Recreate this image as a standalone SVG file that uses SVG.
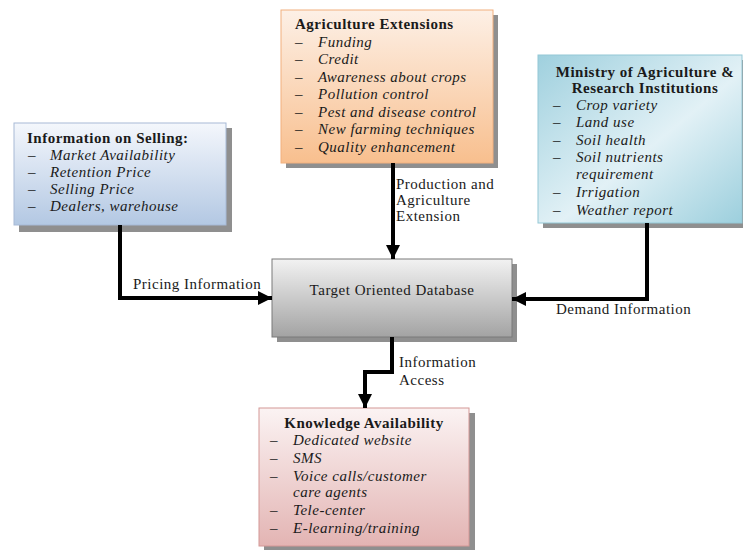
<svg xmlns="http://www.w3.org/2000/svg" width="743" height="550" viewBox="0 0 743 550">
<defs>
<linearGradient id="gSell" x1="0" y1="0" x2="0" y2="1"><stop offset="0" stop-color="#f4f7fc"/><stop offset="1" stop-color="#b3c8e3"/></linearGradient>
<linearGradient id="gAgri" x1="0" y1="0" x2="0" y2="1"><stop offset="0" stop-color="#fdf0e6"/><stop offset="1" stop-color="#f8bf8e"/></linearGradient>
<linearGradient id="gMin" x1="0" y1="0" x2="1" y2="1"><stop offset="0" stop-color="#9fd0de"/><stop offset="0.55" stop-color="#e2f1f6"/><stop offset="1" stop-color="#9ccfdd"/></linearGradient>
<linearGradient id="gDb" x1="0" y1="0" x2="0" y2="1"><stop offset="0" stop-color="#f2f2f2"/><stop offset="1" stop-color="#a3a3a3"/></linearGradient>
<linearGradient id="gKn" x1="0" y1="0" x2="0" y2="1"><stop offset="0" stop-color="#fbf3f3"/><stop offset="1" stop-color="#e3b4b3"/></linearGradient>
<marker id="ah" viewBox="0 0 10 10" refX="10" refY="5" markerWidth="3.6" markerHeight="3.6" orient="auto" markerUnits="strokeWidth"><path d="M0,0 L10,5 L0,10 z" fill="#000"/></marker>
</defs>
<style>
.sh{fill:#8f8f8f}
.t{font-family:"Liberation Serif","Times New Roman",serif;font-size:15px;letter-spacing:0.5px;fill:#1a1a1a}
.b{font-weight:bold}
.i{font-style:italic}
.c{stroke:#000;stroke-width:4;fill:none;marker-end:url(#ah)}
</style>
<rect width="743" height="550" fill="#fff"/>

<g id="selling">
<rect class="sh" x="19" y="128" width="213" height="104"/>
<rect x="14" y="123" width="212" height="102" fill="url(#gSell)" stroke="#a7bad6" stroke-width="1"/>
<text class="t b" x="27" y="143">Information on Selling:</text>
<text class="t" x="28" y="160">–</text><text class="t i" x="50" y="160">Market Availability</text>
<text class="t" x="28" y="177">–</text><text class="t i" x="50" y="177">Retention Price</text>
<text class="t" x="28" y="194">–</text><text class="t i" x="50" y="194">Selling Price</text>
<text class="t" x="28" y="211">–</text><text class="t i" x="50" y="211">Dealers, warehouse</text>
</g>

<g id="agri">
<rect class="sh" x="286" y="15" width="212" height="153"/>
<rect x="281" y="10" width="212" height="153" fill="url(#gAgri)" stroke="#f2b07e" stroke-width="1"/>
<text class="t b" x="295" y="29">Agriculture Extensions</text>
<text class="t" x="295" y="47">–</text><text class="t i" x="318" y="47">Funding</text>
<text class="t" x="295" y="64">–</text><text class="t i" x="318" y="64">Credit</text>
<text class="t" x="295" y="82">–</text><text class="t i" x="318" y="82">Awareness about crops</text>
<text class="t" x="295" y="99">–</text><text class="t i" x="318" y="99">Pollution control</text>
<text class="t" x="295" y="117">–</text><text class="t i" x="318" y="117">Pest and disease control</text>
<text class="t" x="295" y="134">–</text><text class="t i" x="318" y="134">New farming techniques</text>
<text class="t" x="295" y="152">–</text><text class="t i" x="318" y="152">Quality enhancement</text>
</g>

<g id="ministry">
<rect class="sh" x="543" y="60" width="200" height="168"/>
<rect x="538" y="55" width="204" height="168" fill="url(#gMin)" stroke="#94c8d6" stroke-width="1"/>
<text class="t b" x="645" y="77" text-anchor="middle">Ministry of Agriculture &amp;</text>
<text class="t b" x="645" y="93" text-anchor="middle">Research Institutions</text>
<text class="t" x="553" y="110">–</text><text class="t i" x="576" y="110">Crop variety</text>
<text class="t" x="553" y="127">–</text><text class="t i" x="576" y="127">Land use</text>
<text class="t" x="553" y="145">–</text><text class="t i" x="576" y="145">Soil health</text>
<text class="t" x="553" y="162">–</text><text class="t i" x="576" y="162">Soil nutrients</text>
<text class="t i" x="576" y="179">requirement</text>
<text class="t" x="553" y="197">–</text><text class="t i" x="576" y="197">Irrigation</text>
<text class="t" x="553" y="215">–</text><text class="t i" x="576" y="215">Weather report</text>
</g>

<g id="database">
<rect class="sh" x="277" y="264" width="240" height="78"/>
<rect x="272" y="259" width="240" height="78" fill="url(#gDb)" stroke="#7a7a7a" stroke-width="1"/>
<text class="t" x="392" y="295" text-anchor="middle">Target Oriented Database</text>
</g>

<g id="knowledge">
<rect class="sh" x="264" y="413" width="211" height="137"/>
<rect x="259" y="408" width="210" height="138" fill="url(#gKn)" stroke="#d49896" stroke-width="1"/>
<text class="t b" x="364" y="428" text-anchor="middle">Knowledge Availability</text>
<text class="t" x="270" y="445">–</text><text class="t i" x="293" y="445">Dedicated website</text>
<text class="t" x="270" y="463">–</text><text class="t i" x="293" y="463">SMS</text>
<text class="t" x="270" y="481">–</text><text class="t i" x="293" y="481">Voice calls/customer</text>
<text class="t i" x="293" y="497">care agents</text>
<text class="t" x="270" y="515">–</text><text class="t i" x="293" y="515">Tele-center</text>
<text class="t" x="270" y="533">–</text><text class="t i" x="293" y="533">E-learning/training</text>
</g>

<g id="connectors">
<path class="c" d="M120,225 V298 H272"/>
<path class="c" d="M393,163 V259"/>
<path class="c" d="M647,223 V299 H512"/>
<path class="c" d="M392,337 V372 H365 V408"/>
<text class="t" x="133" y="289">Pricing Information</text>
<text class="t" x="396" y="189">Production and</text>
<text class="t" x="396" y="205">Agriculture</text>
<text class="t" x="396" y="221">Extension</text>
<text class="t" x="556" y="314">Demand Information</text>
<text class="t" x="399" y="367">Information</text>
<text class="t" x="399" y="385">Access</text>
</g>
</svg>
